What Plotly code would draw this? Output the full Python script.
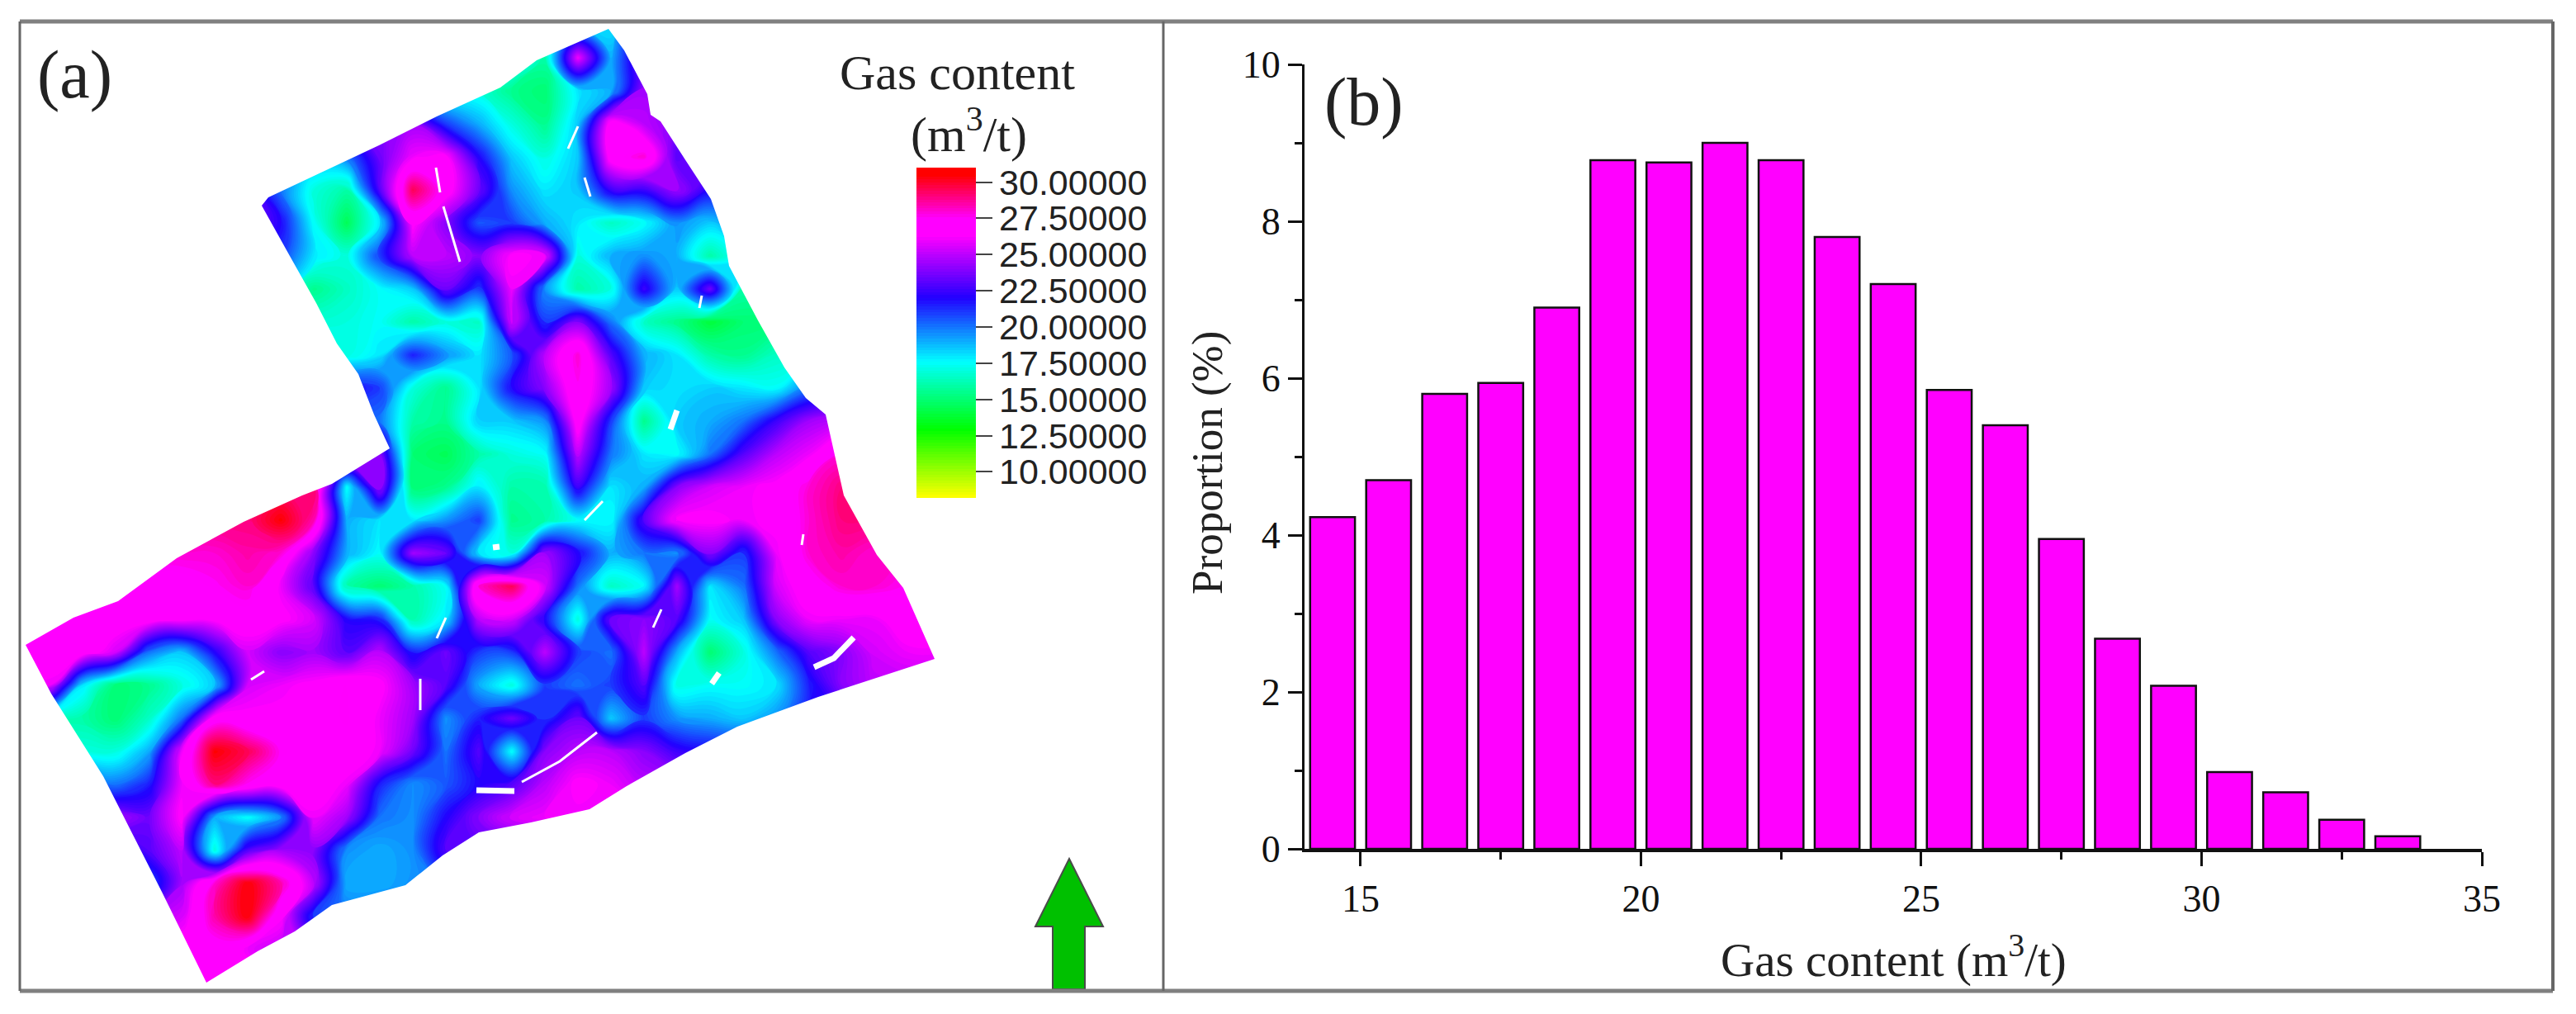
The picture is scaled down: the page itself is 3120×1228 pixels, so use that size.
#%%
import plotly.graph_objects as go

W, H = 3120, 1228
PAGE_OFF = 8  # the page body margin pushes the plot 8px in
FIG_W, FIG_H = W - PAGE_OFF, H - PAGE_OFF

# %%
# panel (b) histogram
bin_centers = [14.5, 15.5, 16.5, 17.5, 18.5, 19.5, 20.5, 21.5, 22.5, 23.5,
               24.5, 25.5, 26.5, 27.5, 28.5, 29.5, 30.5, 31.5, 32.5, 33.5]
proportion = [4.23, 4.70, 5.80, 5.94, 6.90, 8.78, 8.75, 9.00, 8.78, 7.80,
              7.20, 5.85, 5.40, 3.95, 2.68, 2.08, 0.98, 0.72, 0.37, 0.16]

# %%
# panel (a) gas content map on a coarse grid (figure pixels)
grid_x = [20, 60, 100, 140, 180, 220, 260, 300, 340, 380, 420, 460, 500, 540, 580,
          620, 660, 700, 740, 780, 820, 860, 900, 940, 980, 1020, 1060, 1100, 1140]
grid_y = [30, 70, 110, 150, 190, 230, 270, 310, 350, 390, 430, 470, 510, 550, 590,
          630, 670, 710, 750, 790, 830, 870, 910, 950, 990, 1030, 1070, 1110, 1150, 1190]
gas_content = [
    [18, 18, 18, 18, 18, 18, 18, 18, 18, 18, 18, 18, 18, 18, 18, 18, 16, 18, 18, 24, 24, 24, 24, 24, 24, 24, 24, 24, 24],
    [18, 18, 18, 18, 18, 18, 18, 18, 18, 18, 18, 18, 18, 18, 18, 18, 16, 26, 19, 24, 24, 24, 24, 24, 24, 24, 24, 24, 24],
    [17, 17, 17, 17, 17, 17, 17, 17, 17, 17, 17, 17, 17, 17, 17, 15.5, 15, 18, 19, 24.5, 24.5, 24.5, 24.5, 24.5, 24.5, 24.5, 24.5, 24.5, 24.5],
    [24, 24, 24, 24, 24, 24, 24, 24, 24, 24, 24, 24, 24.5, 21, 19, 17, 15.5, 18.5, 27, 25, 24, 24, 24, 24, 24, 24, 24, 24, 24],
    [20, 20, 20, 20, 20, 20, 20, 20, 20, 19, 20, 23.5, 26, 26.5, 22, 18.5, 17, 18.5, 27, 28, 23, 24, 24, 24, 24, 24, 24, 24, 24],
    [23, 23, 23, 23, 23, 23, 23, 23, 20, 17, 16, 23, 29.5, 27, 23.5, 19.5, 18, 18.5, 22.5, 22.5, 24.5, 22, 22, 22, 22, 22, 22, 22, 22],
    [24, 24, 24, 24, 24, 24, 24, 24, 22, 17.5, 14.5, 18, 26.5, 24, 20.5, 21, 19, 18, 16.5, 17.5, 19.5, 18.5, 20, 20, 20, 20, 20, 20, 20],
    [22, 22, 22, 22, 22, 22, 22, 22, 21, 18, 17, 21, 25, 25, 24, 26.5, 26, 17, 19, 19.5, 19, 16, 18, 18, 18, 18, 18, 18, 18],
    [18, 18, 18, 18, 18, 18, 18, 18, 18, 15.5, 16.5, 17.5, 18.5, 23.5, 21, 26, 19.5, 16, 17, 22.5, 18.5, 23.5, 16, 16, 16, 16, 16, 16, 16],
    [17, 17, 17, 17, 17, 17, 17, 17, 17, 17, 17, 17.5, 16, 17, 16.5, 25.5, 21, 24, 20, 16.5, 15.5, 14, 15, 15, 15, 15, 15, 15, 15],
    [17, 17, 17, 17, 17, 17, 17, 17, 17, 17, 17, 18, 21.5, 19.5, 18, 20.5, 25, 28, 23, 19, 18, 16, 15.5, 16.5, 17, 17, 17, 17, 17],
    [22, 22, 22, 22, 22, 22, 22, 22, 22, 22, 22, 21, 17, 15.5, 18, 22, 24, 27.5, 24.5, 18.5, 18, 18.5, 18, 17.5, 20, 21, 21, 21, 21],
    [20, 20, 20, 20, 20, 20, 20, 20, 20, 20, 20, 20, 16, 15.5, 18.5, 18.5, 19.5, 27, 21, 15.5, 18.5, 19, 20, 22.5, 24.5, 25, 25, 25, 25],
    [27, 27, 27, 27, 27, 27, 27, 27, 27, 27, 27, 24, 15, 14.5, 16, 17, 17.5, 25, 20, 18, 17.5, 20, 23, 25, 26, 28, 28, 28, 28],
    [29, 29, 29, 29, 29, 29, 29, 29, 29, 29, 17.5, 24.5, 15, 15.5, 18, 16, 16, 22.5, 18, 19, 24, 25.5, 26, 26.5, 28, 29, 29, 29, 29],
    [29, 29, 29, 29, 29, 29, 29, 29, 30.5, 28.5, 19, 18, 18, 19.5, 21, 15.5, 16, 17.5, 17.5, 23, 26.5, 26.5, 26, 26.5, 28, 29, 29, 29, 29],
    [28, 28, 28, 28, 28, 28, 28, 28.5, 28, 24, 19, 17.5, 24.5, 23.5, 18, 17, 24.5, 22, 19, 20, 19.5, 24, 21, 26, 28, 28.5, 28, 28, 28],
    [27, 27, 27, 27, 27, 27, 27.5, 28, 26, 23, 16, 15, 16, 17.5, 28, 29.5, 25.5, 20, 16.5, 17.5, 24.5, 18, 20, 25.5, 27, 28, 28, 27.5, 27],
    [27, 27, 27, 27, 27, 26.5, 26.5, 27, 26.5, 25.5, 22, 21.5, 16, 18, 25, 25.5, 22, 17, 23.5, 24, 23, 17.5, 18.5, 24, 26, 26, 26, 27, 27],
    [27, 27, 27, 25.5, 20, 18.5, 22, 25.5, 24, 24.5, 23, 25, 21.5, 23.5, 21, 21, 25, 21, 20, 25, 19, 15, 17, 20, 23, 24, 25.5, 26, 26],
    [26, 26, 18, 15, 15.5, 17, 18.5, 25.5, 26, 26.5, 27.5, 26.5, 24.5, 23, 19, 17, 21, 20, 21, 23, 17, 17.5, 17.5, 18, 21.5, 24, 25, 25, 25],
    [16, 16, 16, 15, 16.5, 20, 27, 26.5, 26.5, 27, 27.5, 26, 24.5, 19.5, 21.5, 23.5, 21, 23.5, 18.5, 21, 19.5, 19, 18.5, 19.5, 22, 22, 22, 22, 22],
    [17, 17, 17, 17, 19, 26, 30.5, 29.5, 27.5, 27, 27, 26, 23.5, 20, 23, 17.5, 24, 25, 25, 24, 22.5, 22, 22, 22, 22, 22, 22, 22, 22],
    [21, 21, 21, 20, 21.5, 26, 29, 27.5, 27, 27, 26, 21.5, 19.5, 20.5, 22, 23, 25, 26.5, 26, 25, 25, 25, 25, 25, 25, 25, 25, 25, 25],
    [24, 24, 24, 24.5, 23.5, 26.5, 19, 17.5, 19.5, 26, 24.5, 20, 19.5, 22, 24, 25.5, 26, 26, 26, 26, 26, 26, 26, 26, 26, 26, 26, 26, 26],
    [22, 22, 22, 22, 23, 25, 17, 23, 24.5, 24, 19.5, 19, 19.5, 23, 23, 23, 23, 23, 23, 23, 23, 23, 23, 23, 23, 23, 23, 23, 23],
    [21, 21, 21, 21, 20.5, 24.5, 28, 30.5, 28.5, 25, 19, 19, 19.5, 20, 20, 20, 20, 20, 20, 20, 20, 20, 20, 20, 20, 20, 20, 20, 20],
    [25, 25, 25, 25, 25, 25.5, 28.5, 30.5, 26.5, 21, 20, 20, 20, 20, 20, 20, 20, 20, 20, 20, 20, 20, 20, 20, 20, 20, 20, 20, 20],
    [27, 27, 27, 27, 27, 27, 27, 26, 25, 25, 25, 25, 25, 25, 25, 25, 25, 25, 25, 25, 25, 25, 25, 25, 25, 25, 25, 25, 25],
    [27, 27, 27, 27, 27, 27, 27, 27, 27, 27, 27, 27, 27, 27, 27, 27, 27, 27, 27, 27, 27, 27, 27, 27, 27, 27, 27, 27, 27],
]
colorbar_ticks = [10, 12.5, 15, 17.5, 20, 22.5, 25, 27.5, 30]

# outline of the surveyed block, figure pixels
outline_x = [317, 325, 459, 529, 606, 650, 737, 756, 784, 788, 800, 829, 861, 877, 883, 918, 950, 976,
             1000, 1022, 1062, 1094, 1132, 991, 893, 830, 759, 714, 643, 580, 536, 491, 402, 357, 312, 250,
             196, 125, 62, 31, 89, 143, 214, 295, 366, 402, 472, 453, 434, 408, 383, 351]
outline_y = [249, 239, 176, 141, 106, 73, 35, 61, 114, 139, 147, 192, 241, 286, 322, 388, 445, 482,
             502, 600, 672, 712, 798, 844, 880, 912, 952, 980, 996, 1008, 1036, 1072, 1096, 1128, 1152, 1190,
             1080, 940, 840, 781, 748, 728, 676, 632, 600, 586, 543, 502, 453, 416, 367, 310]

# white gaps along the faults
fault_x = [528, 533, None, 537, 557, None, 700, 688, None, 708, 715, None, 847, 850, None, 971, 973, None,
           632, 678, 723, None, 708, 730, None, 801, 791, None, 509, 509, None, 304, 320, None, 529, 540]
fault_y = [203, 233, None, 250, 317, None, 153, 180, None, 215, 238, None, 373, 358, None, 660, 647, None,
           947, 922, 887, None, 630, 607, None, 738, 760, None, 822, 860, None, 823, 813, None, 773, 748]
gap_x = [820, 812, None, 986, 1010, 1034, None, 862, 871, None, 577, 623, None, 597, 605]
gap_y = [497, 520, None, 808, 797, 772, None, 828, 815, None, 957, 958, None, 663, 662]

arrow_x = [1295, 1336, 1314, 1314, 1275, 1275, 1254]
arrow_y = [1040, 1122, 1122, 1198, 1198, 1122, 1122]

# %%
gas_colorscale = [[0.0, '#ffff00'], [0.206, '#00ff00'], [0.412, '#00ffff'], [0.605, '#2200ff'],
                  [0.794, '#ff00ff'], [0.846, '#ff00ff'], [0.978, '#ff0000'], [1.0, '#ff0000']]


def px_x(p):
    return (p - PAGE_OFF) / FIG_W


def px_y(p):
    return 1 - (p - PAGE_OFF) / FIG_H


fig = go.Figure()

fig.add_trace(go.Contour(x=grid_x, y=grid_y, z=gas_content, xaxis='x2', yaxis='y2',
                         zmin=8.2, zmax=31, colorscale=gas_colorscale, hoverinfo='skip',
                         autocontour=False, contours=dict(start=8.2, end=31, size=0.2, coloring='fill', showlines=False),
                         line=dict(width=0, smoothing=1.3),
                         colorbar=dict(x=px_x(1110), xanchor='left', y=px_y(203), yanchor='top',
                                       thickness=72, thicknessmode='pixels',
                                       len=400, lenmode='pixels', xpad=0, ypad=0,
                                       outlinewidth=0, tickmode='array', tickvals=colorbar_ticks,
                                       tickformat='.5f', ticks='outside', ticklen=20, tickwidth=2,
                                       tickcolor='#444444',
                                       tickfont=dict(family='Liberation Sans', size=43, color='#222222'))))

fig.add_trace(go.Scatter(x=fault_x, y=fault_y, xaxis='x2', yaxis='y2', mode='lines',
                         line=dict(color='white', width=3), hoverinfo='skip', showlegend=False))
fig.add_trace(go.Scatter(x=gap_x, y=gap_y, xaxis='x2', yaxis='y2', mode='lines',
                         line=dict(color='white', width=7), hoverinfo='skip', showlegend=False))

fig.add_trace(go.Bar(x=bin_centers, y=proportion, width=0.8, marker=dict(color='#ff00ff',
                     line=dict(color='#111111', width=2.5)), showlegend=False))


def closed_path(xs, ys):
    return 'M ' + ' L '.join(f'{x} {y}' for x, y in zip(xs, ys)) + ' Z'


# white everything outside the block (even-odd hole)
mask_path = closed_path([0, 1405, 1405, 0], [0, 0, 1228, 1228]) + ' ' + closed_path(outline_x, outline_y)
shapes = [dict(type='path', path=mask_path, xref='x2', yref='y2', fillcolor='white', fillrule='evenodd',
               line=dict(width=0), layer='above')]
shapes.append(dict(type='path', path=closed_path(arrow_x, arrow_y), xref='x2', yref='y2',
                   fillcolor='#00c000', line=dict(color='#4a4a4a', width=2), layer='above'))
# panel frame
for x0, y0, x1, y1, col, lw in [(24, 26, 3092, 26, '#808080', 5), (24, 1200, 3092, 1200, '#808080', 5),
                                (24, 26, 24, 1200, '#666666', 3), (1409, 26, 1409, 1200, '#666666', 3),
                                (3092, 26, 3092, 1200, '#666666', 4)]:
    shapes.append(dict(type='line', x0=x0, y0=y0, x1=x1, y1=y1, xref='x2', yref='y2',
                       line=dict(color=col, width=lw), layer='above'))


def label(text, x, y, size, angle=0):
    return dict(text=text, x=x, y=y, xref='x2', yref='y2', showarrow=False, textangle=angle,
                xanchor='center', yanchor='middle',
                font=dict(family='Liberation Serif', size=size, color='#222222'))


annotations = [
    label('(a)', 90, 90, 82),
    label('(b)', 1652, 123, 82),
    label('Gas content', 1159, 88, 60),
    label('(m<sup>3</sup>/t)', 1173, 158, 60),
    label('Proportion (%)', 1462, 561, 53, -90),
    label('Gas content (m<sup>3</sup>/t)', 2293, 1158, 57),
]

tick_font = dict(family='Liberation Serif', size=46, color='#111111')
fig.update_layout(
    width=FIG_W, height=FIG_H, margin=dict(l=0, r=0, t=0, b=0, pad=0, autoexpand=False),
    paper_bgcolor='white', plot_bgcolor='rgba(0,0,0,0)', bargap=0.2, showlegend=False,
    shapes=shapes, annotations=annotations,
    xaxis=dict(domain=[px_x(1580), px_x(3006)], range=[14, 35], dtick=5, tick0=15, ticks='outside',
               ticklen=17, tickwidth=3, tickcolor='#111111', showline=True, linecolor='#111111',
               linewidth=4, showgrid=False, zeroline=False, tickfont=tick_font, anchor='y',
               minor=dict(dtick=2.5, tick0=15, ticks='outside', ticklen=9, tickwidth=3, tickcolor='#111111',
                          showgrid=False)),
    yaxis=dict(domain=[px_y(1028), px_y(78)], range=[0, 10], dtick=2, ticks='outside',
               ticklen=17, tickwidth=3, tickcolor='#111111', showline=True, linecolor='#111111',
               linewidth=3, showgrid=False, zeroline=False, tickfont=tick_font, anchor='x',
               minor=dict(dtick=1, ticks='outside', ticklen=9, tickwidth=3, tickcolor='#111111',
                          showgrid=False)),
    xaxis2=dict(domain=[0, 1], range=[PAGE_OFF, W], visible=False, anchor='y2'),
    yaxis2=dict(domain=[0, 1], range=[H, PAGE_OFF], visible=False, anchor='x2'),
)

fig.write_html("out.html")
